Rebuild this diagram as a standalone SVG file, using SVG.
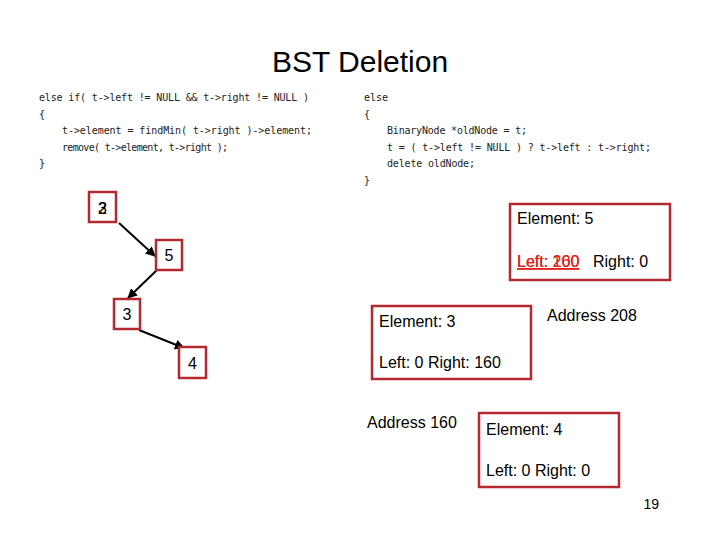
<svg xmlns="http://www.w3.org/2000/svg" width="720" height="540" viewBox="0 0 720 540">
<style>
.t{font-family:"Liberation Sans",Arial,sans-serif;font-size:16px;fill:#000}
.c{font-family:"DejaVu Sans Mono","Liberation Mono",monospace;font-size:10px;fill:#222}
.b{fill:#fff;stroke:#b22a30;stroke-width:2.5}
.e{stroke:#000;stroke-width:2;fill:none;marker-end:url(#a)}
</style>
<defs><marker id="a" viewBox="0 0 10 10" refX="9" refY="5" markerWidth="5" markerHeight="5" orient="auto"><path d="M0,0L10,5L0,10z" fill="#000"/></marker></defs>
<rect width="720" height="540" fill="#fff"/>
<text x="360" y="72" text-anchor="middle" class="t" style="font-size:30px">BST Deletion</text>
<g id="code">
<text class="c" x="39" y="101" textLength="270">else if( t-&gt;left != NULL &amp;&amp; t-&gt;right != NULL )</text>
<text class="c" x="39" y="118">{</text>
<text class="c" x="62" y="134" textLength="250">t-&gt;element = findMin( t-&gt;right )-&gt;element;</text>
<text class="c" x="62" y="151" textLength="166">remove( t-&gt;element, t-&gt;right );</text>
<text class="c" x="39" y="167">}</text>
<text class="c" x="364" y="101">else</text>
<text class="c" x="364" y="118">{</text>
<text class="c" x="387" y="134" textLength="140">BinaryNode *oldNode = t;</text>
<text class="c" x="387" y="151" textLength="264">t = ( t-&gt;left != NULL ) ? t-&gt;left : t-&gt;right;</text>
<text class="c" x="387" y="167" textLength="88">delete oldNode;</text>
<text class="c" x="364" y="184">}</text>
</g>
<g id="edges">
<line class="e" x1="119" y1="223" x2="155" y2="256"/>
<line class="e" x1="157" y1="270" x2="128" y2="298"/>
<line class="e" x1="139" y1="330" x2="184" y2="348"/>
</g>
<g id="n2"><rect class="b" x="89" y="192" width="27" height="30"/><text class="t" x="102.5" y="214" text-anchor="middle">2</text><text class="t" x="102.5" y="214" text-anchor="middle">3</text></g>
<g id="n5"><rect class="b" x="156" y="240" width="26" height="30"/><text class="t" x="169" y="261" text-anchor="middle">5</text></g>
<g id="n3"><rect class="b" x="114" y="299" width="26" height="30"/><text class="t" x="127" y="320" text-anchor="middle">3</text></g>
<g id="n4"><rect class="b" x="179" y="347" width="27" height="31"/><text class="t" x="192.5" y="369" text-anchor="middle">4</text></g>
<g id="box5"><rect class="b" x="510" y="204" width="160" height="76"/>
<text class="t" x="517" y="224">Element: 5</text>
<text class="t" x="517" y="267" fill="#e0201a" style="fill:#e0201a;text-decoration:underline">Left: 200</text>
<text class="t" x="517" y="267" style="fill:#e0201a;text-decoration:underline">Left: 160</text>
<text class="t" x="593" y="267">Right: 0</text></g>
<text class="t" x="547" y="321">Address 208</text>
<g id="box3"><rect class="b" x="372" y="306" width="159" height="73"/>
<text class="t" x="379" y="327">Element: 3</text>
<text class="t" x="379" y="368">Left: 0 Right: 160</text></g>
<text class="t" x="367" y="428">Address 160</text>
<g id="box4"><rect class="b" x="479" y="413" width="140" height="74"/>
<text class="t" x="486" y="435">Element: 4</text>
<text class="t" x="486" y="476">Left: 0 Right: 0</text></g>
<text class="t" x="659" y="509" text-anchor="end" style="font-size:14px">19</text>
</svg>
